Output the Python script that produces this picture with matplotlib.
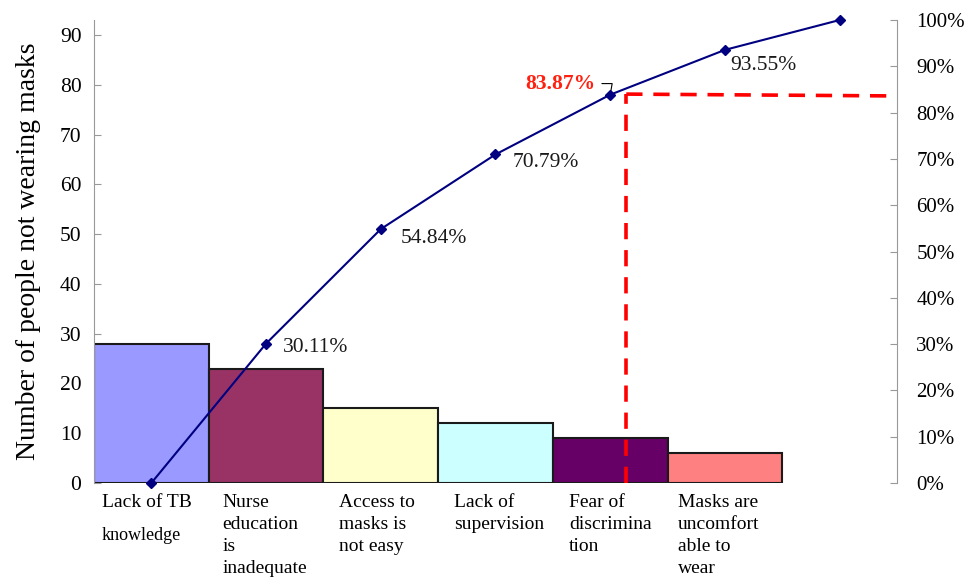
import matplotlib.pyplot as plt
import numpy as np

plt.rcParams['font.family'] = ['Liberation Serif', 'DejaVu Serif']

categories = ['Lack of TB\nknowledge', 'Nurse\neducation\nis\ninadequate', 'Access to\nmasks is\nnot easy',
              'Lack of\nsupervision', 'Fear of\ndiscrimina\ntion', 'Masks are\nuncomfort\nable to\nwear']
counts = [28, 23, 15, 12, 9, 6]
colors = ['#9999FF', '#993366', '#FFFFCC', '#CCFFFF', '#660066', '#FF8080']
pct_labels = ['30.11%', '54.84%', '70.79%', '83.87%', '93.55%']

total = sum(counts)
cum = np.concatenate([[0], np.cumsum(counts)])  # 0, 28, 51, ... 93
cum_pct = cum / total * 100
x_line = np.arange(len(cum))
x_bar = np.arange(len(counts))

# red guide lines (cut at ~84%)
guide_x = 4.14
guide_y = [84.0, 83.6]

fig = plt.figure(figsize=(9.67, 5.82), dpi=100)
ax = fig.add_axes([0.0972, 0.1701, 0.8304, 0.7955])
ax2 = ax.twinx()

ax.bar(x_bar, counts, width=1.0, color=colors, edgecolor='#1a1a1a', linewidth=1.5, zorder=2)
ax.set_xlim(-0.5, 6.5)
ax.set_ylim(0, 93)
ax.set_yticks(range(0, 91, 10))
ax.set_xticks([])
ax.set_ylabel('Number of people not wearing masks', fontsize=20)
ax.yaxis.set_label_coords(-0.066, 0.5)

for s in ['top', 'bottom', 'right']:
    ax.spines[s].set_visible(False)
ax.spines['left'].set_color('#999999')
ax.tick_params(axis='y', direction='in', length=5, color='#999999', labelsize=15.5, pad=9)

x_shift = [-0.43, -0.38, -0.36, -0.36, -0.36, -0.41]
for i, lab in enumerate(categories):
    if i == 0:
        first, rest = lab.split('\n')
        ax.text(i + x_shift[i], -2.3, first, fontsize=14, ha='left', va='top')
        ax.text(i + x_shift[i], -8.9, rest, fontsize=13, ha='left', va='top')
        continue
    ax.text(i + x_shift[i], -2.3, lab, fontsize=14, ha='left', va='top', linespacing=1.38)

ax2.set_ylim(0, 100)
ax2.set_xlim(-0.5, 6.5)
ax2.set_yticks(range(0, 101, 10))
ax2.set_yticklabels([f'{v}%' for v in range(0, 101, 10)])
for s in ['top', 'bottom', 'left']:
    ax2.spines[s].set_visible(False)
ax2.spines['right'].set_color('#999999')
ax2.tick_params(axis='y', direction='in', length=5, color='#999999', labelsize=15, pad=14)

ax2.plot(x_line, cum_pct, color='#000080', linewidth=1.5, marker='D', markersize=5,
         clip_on=False, zorder=5)

ax2.plot([guide_x, guide_x], [0, guide_y[0]], color='red', linestyle=(0, (4.5, 3)), linewidth=2.6, zorder=4)
ax2.plot([guide_x, 6.5], guide_y, color='red', linestyle=(0, (4.5, 3)), linewidth=2.6, zorder=4, clip_on=False)

offsets = [(12, -3), (14, -6.5), (12, -6), None, (4, -11)]
for k, lab in enumerate(pct_labels):
    xi = k + 1
    if offsets[k] is None:
        ax2.annotate(lab, xy=(xi, cum_pct[xi]), xytext=(-11, 8), textcoords='offset points',
                     ha='right', va='center', fontsize=15.5, color='#FF2010', fontweight='bold',
                     arrowprops=dict(arrowstyle='-', color='black', lw=0.8,
                                     connectionstyle='angle,angleA=0,angleB=80,rad=0',
                                     shrinkA=3, shrinkB=3))
        continue
    ax2.annotate(lab, xy=(xi, cum_pct[xi]), xytext=offsets[k], textcoords='offset points',
                 ha='left', va='center', fontsize=15.5, color='#1a1a1a')

fig.savefig('out.png', dpi=100)
